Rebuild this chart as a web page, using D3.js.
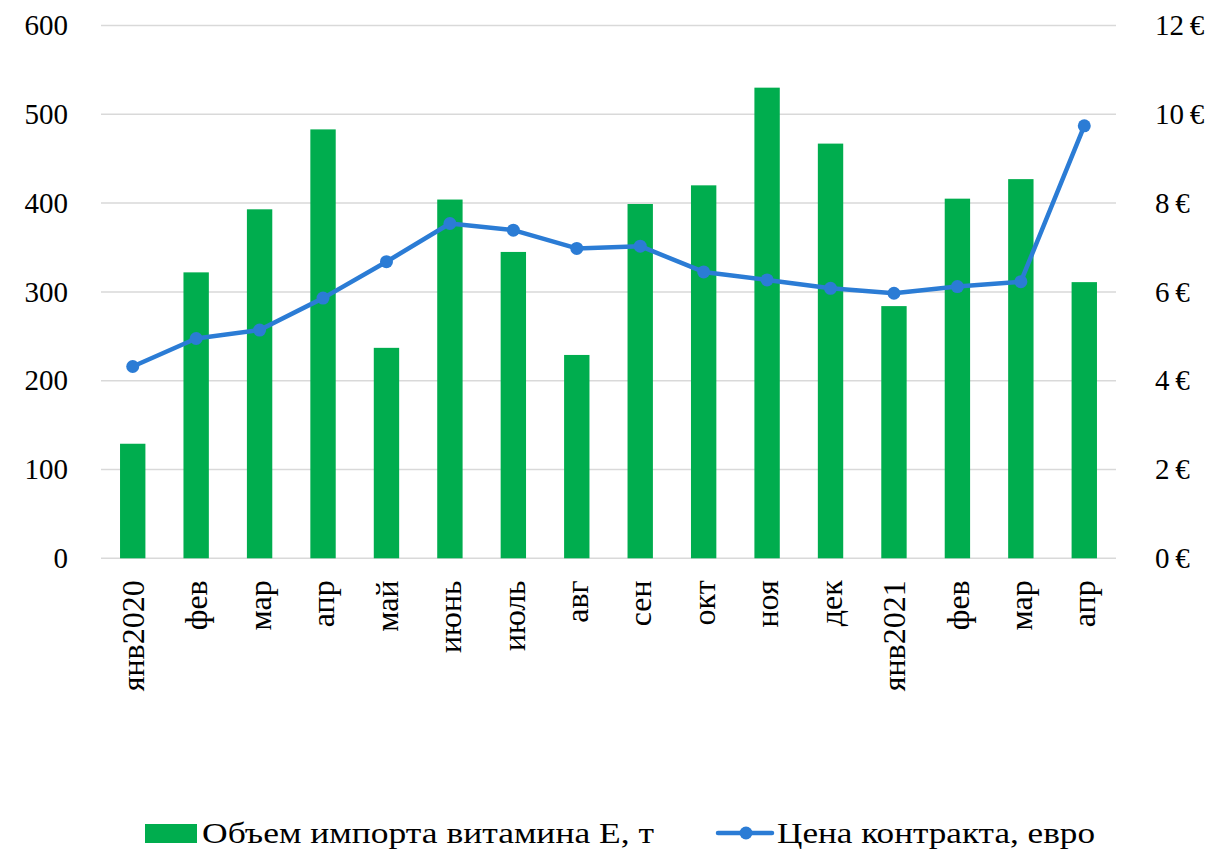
<!DOCTYPE html>
<html><head><meta charset="utf-8">
<script src="https://cdn.jsdelivr.net/npm/d3@7"></script>
<style>body{margin:0;background:#fff}svg{display:block}text{font-family:"Liberation Serif","DejaVu Serif",serif;fill:#000}</style>
</head><body><svg id="c" width="1218" height="852"></svg>
<script>
const categories = ["янв2020","фев","мар","апр","май","июнь","июль","авг","сен","окт","ноя","дек","янв2021","фев","мар","апр"];
const volume = [129,322,393,483,237,404,345,229,399,420,530,467,284,405,427,311];
const price = [4.32,4.95,5.14,5.86,6.68,7.54,7.39,6.98,7.03,6.45,6.27,6.08,5.97,6.12,6.23,9.74];
const leftTicks = [0,100,200,300,400,500,600];
const rightTicks = [0,2,4,6,8,10,12];
const seriesNames = ["Объем импорта витамина Е, т","Цена контракта, евро"];

const svg = d3.select("#c");
const x0 = 101, x1 = 1116, yTop = 25.5, yBot = 558.3;
const keys = categories.map((c,i)=>i);
const x = d3.scaleBand().domain(keys).range([x0,x1]).paddingInner(0.6).paddingOuter(0.3);
const yL = d3.scaleLinear().domain([0,600]).range([yBot,yTop]);
const yR = d3.scaleLinear().domain([0,12]).range([yBot,yTop]);
const FS = 29;
const FF = '"Liberation Serif",serif';

// gridlines
svg.append("g").selectAll("line").data(leftTicks).join("line")
  .attr("x1",x0).attr("x2",x1).attr("y1",d=>yL(d)).attr("y2",d=>yL(d))
  .attr("stroke","#d9d9d9").attr("stroke-width",1.5);

// left axis
const gl = svg.append("g").attr("transform",`translate(${x0},0)`)
  .call(d3.axisLeft(yL).tickValues(leftTicks).tickSize(0).tickPadding(33));
gl.select(".domain").remove();
gl.selectAll("text").style("font-size",FS+"px").style("font-family",FF).attr("fill","#000");

// right axis
const gr = svg.append("g").attr("transform",`translate(${x1},0)`)
  .call(d3.axisRight(yR).tickValues(rightTicks).tickSize(0).tickPadding(39).tickFormat(d=>d+"\u2009€"));
gr.select(".domain").remove();
gr.selectAll("text").style("font-size",FS+"px").style("font-family",FF).attr("fill","#000");

// bars
svg.append("g").selectAll("rect").data(volume).join("rect")
  .attr("x",(d,i)=>x(i)).attr("width",x.bandwidth())
  .attr("y",d=>yL(d)).attr("height",d=>yBot-yL(d)).attr("fill","#00ad4e");

// x axis labels
const gx = svg.append("g").attr("transform",`translate(0,${yBot})`)
  .call(d3.axisBottom(x).tickSize(0).tickFormat(i=>categories[i]));
gx.select(".domain").remove();
gx.selectAll("text").style("font-size","32px").style("font-family",FF).attr("fill","#000")
  .attr("transform","rotate(-90)").attr("text-anchor","end").attr("x",-22).attr("y",0).attr("dy","0.35em").attr("dx",0);

// line
const line = d3.line().x((d,i)=>x(i)+x.bandwidth()/2).y(d=>yR(d));
svg.append("path").datum(price).attr("d",line).attr("fill","none")
  .attr("stroke","#2b7cd5").attr("stroke-width",4.5).attr("stroke-linejoin","round").attr("stroke-linecap","round");
svg.append("g").selectAll("circle").data(price).join("circle")
  .attr("cx",(d,i)=>x(i)+x.bandwidth()/2).attr("cy",d=>yR(d)).attr("r",6.5).attr("fill","#2b7cd5");

// legend
const lg = svg.append("g");
lg.append("rect").attr("x",145).attr("y",824).attr("width",52).attr("height",19).attr("fill","#00ad4e");
lg.append("text").attr("x",202).attr("y",843).style("font-size","29px")
  .attr("textLength",452).attr("lengthAdjust","spacingAndGlyphs").text(seriesNames[0]);
lg.append("line").attr("x1",718).attr("x2",772).attr("y1",833).attr("y2",833).attr("stroke","#2b7cd5").attr("stroke-width",4.5).attr("stroke-linecap","round");
lg.append("circle").attr("cx",746).attr("cy",833).attr("r",6.5).attr("fill","#2b7cd5");
lg.append("text").attr("x",777).attr("y",843).style("font-size","29px")
  .attr("textLength",318).attr("lengthAdjust","spacingAndGlyphs").text(seriesNames[1]);
</script></body></html>
